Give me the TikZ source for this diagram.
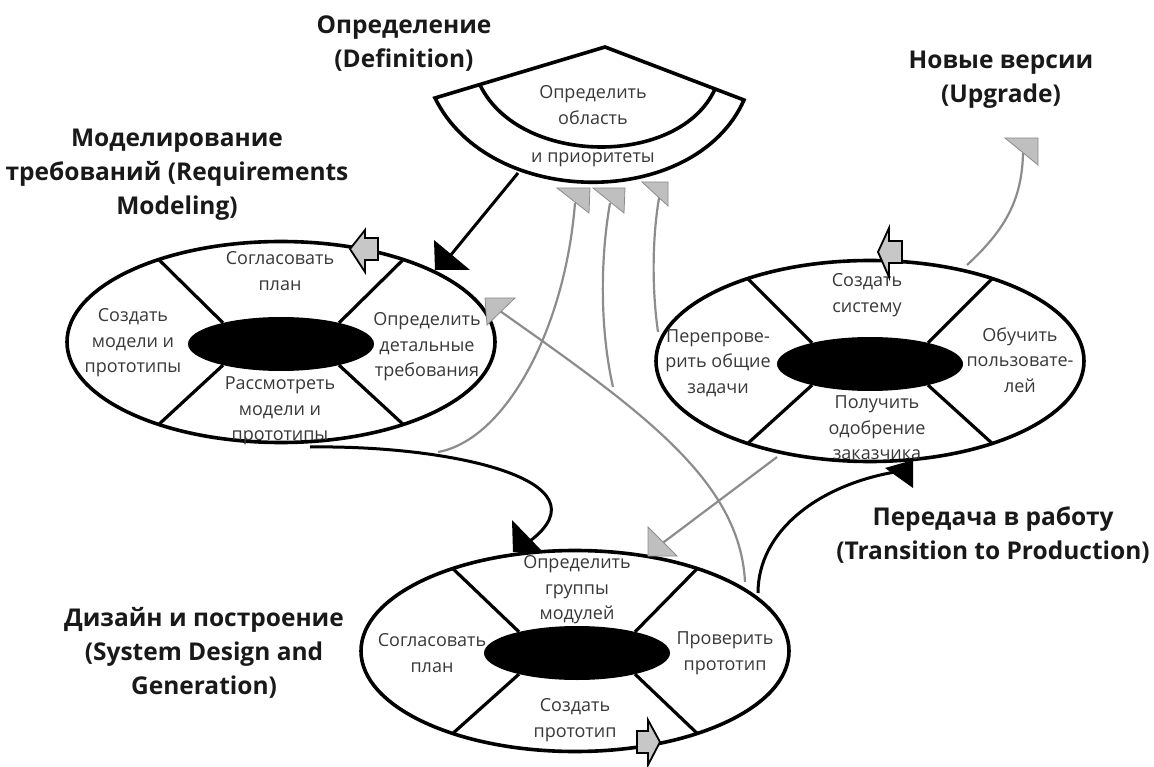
\documentclass[tikz,border=0pt]{standalone}
\usepackage{fontspec}
\setmainfont{Open Sans}
\usetikzlibrary{shapes.geometric}
\begin{document}
\begin{tikzpicture}[x=1pt,y=-1pt,
  outer/.style={ellipse,draw,line width=3.6pt,minimum width=428pt,minimum height=201pt,inner sep=0pt,outer sep=0pt},
  hub/.style={ellipse,fill=black,minimum width=186pt,minimum height=54pt,inner sep=0pt,outer sep=0pt},
  spoke/.style={line width=3.2pt},
  lbl/.style={font=\fontsize{18}{25.5}\selectfont,text=black!78,align=center,inner sep=0pt},
  ttl/.style={font=\fontsize{24.5}{34}\selectfont\bfseries,text=black!90,align=center,inner sep=0pt},
  gline/.style={draw=black!45,line width=2.2pt},
  bline/.style={draw=black,line width=3pt},
  gtip/.style={fill=black!25,draw=black!45,line width=0.8pt},
  btip/.style={fill=black},
  blk/.style={fill=black!22,draw=black,line width=1.8pt,line join=miter}]
\useasboundingbox (0,0) rectangle (1154,767);

% ---------- Definition fan ----------
\coordinate (F1) at (435,98);
\coordinate (Fa) at (605,47);
\coordinate (F2) at (744,100);
\coordinate (Fi1) at (480,85);
\coordinate (Fi2) at (715,89);
\draw[line width=3.6pt,line join=miter] (F1) -- (Fa) -- (F2) .. controls (695,210) and (490,210) .. cycle;
\draw[line width=3.6pt] (Fi1) .. controls (520,167) and (680,167) .. (Fi2);
\node[lbl] (fanA) at (593,105) {Определить\\область};
\node[lbl] (fanB) at (593,160) {и приоритеты};

% ---------- Ellipses ----------
\node[outer] (L) at (281,342) {};
\node[hub] (Lh) at (281,344) {};
\node[outer] (R) at (870,361) {};
\node[hub] (Rh) at (870,364) {};
\node[outer] (B) at (575,651) {};
\node[hub] (Bh) at (577,653) {};
\foreach \e in {L,R,B}{
  \draw[spoke] (\e h.20) -- (\e.34);
  \draw[spoke] (\e h.160) -- (\e.146);
  \draw[spoke] (\e h.200) -- (\e.214);
  \draw[spoke] (\e h.340) -- (\e.326);
}

% ---------- Ellipse texts ----------
\node[lbl] (LA) at (280,271) {Согласовать\\план};
\node[lbl] (LB) at (133,343) {Создать\\модели и\\прототипы};
\node[lbl] (LC) at (427,347) {Определить\\детальные\\требования};
\node[lbl] (LD) at (280,411) {Рассмотреть\\модели и\\прототипы};

\node[lbl] (RA) at (867,295) {Создать\\систему};
\node[lbl] (RB) at (718,363) {Перепрове-\\рить общие\\задачи};
\node[lbl] (RC) at (877,428) {Получить\\одобрение\\заказчика};
\node[lbl] (RD) at (1020,360) {Обучить\\пользовате-\\лей};

\node[lbl] (BA) at (577,590) {Определить\\группы\\модулей};
\node[lbl] (BB) at (432,653) {Согласовать\\план};
\node[lbl] (BC) at (725,653) {Проверить\\прототип};
\node[lbl] (BD) at (575,720) {Создать\\прототип};

% ---------- Titles ----------
\node[ttl] (tDef) at (404,44) {Определение\\(Definition)};
\node[ttl] (tUp) at (1001,80) {Новые версии\\(Upgrade)};
\node[ttl] (tReq) at (177,175) {Моделирование\\требований (Requirements\\Modeling)};
\node[ttl] (tDes) at (204,653) {Дизайн и построение\\(System Design and\\Generation)};
\node[ttl] (tTr) at (993,535) {Передача в работу\\(Transition to Production)};

% ---------- connector end points ----------
\coordinate (fB) at (518,173);
\coordinate (tL) at (450,256);
\coordinate (Lb) at (310,447);
\coordinate (tB) at (530,541);
\coordinate (Bs) at (758,593);
\coordinate (tR) at (895,472);
\coordinate (g1s) at (438,452);
\coordinate (g1e) at (575,203);
\coordinate (Bt) at (745,582);
\coordinate (gLe) at (500,311);
\coordinate (gbr) at (613,387);
\coordinate (g2e) at (610,203);
\coordinate (Rl) at (658,332);
\coordinate (g3e) at (659,198);
\coordinate (Rbl) at (777,457);
\coordinate (g5e) at (660,545);
\coordinate (Rt) at (967,265);
\coordinate (g6e) at (1023,153);

% ---------- gray connectors ----------
\draw[gline] (g1s) .. controls (505,440) and (565,330) .. (g1e);
\draw[gline] (Bt) .. controls (740,480) and (640,410) .. (gLe);
\draw[gline] (gbr) .. controls (600,330) and (600,260) .. (g2e);
\draw[gline] (Rl) .. controls (652,290) and (652,240) .. (g3e);
\draw[gline] (Rbl) -- (g5e);
\draw[gline] (Rt) .. controls (1005,230) and (1022,200) .. (g6e);

% ---------- black connectors ----------
\draw[bline] (fB) -- (tL);
\draw[bline] (Lb) .. controls (450,445) and (610,480) .. (tB);
\draw[bline] (Bs) .. controls (758,530) and (820,485) .. (tR);

% ---------- arrow tips ----------
\filldraw[gtip] (557,188) -- (590,188) -- (589,213) -- cycle;
\filldraw[gtip] (593,188) -- (625,188) -- (624,213) -- cycle;
\filldraw[gtip] (642,182) -- (668,182) -- (668,206) -- cycle;
\filldraw[gtip] (485,298) -- (515,298) -- (487,325) -- cycle;
\filldraw[gtip] (648,527) -- (648,556) -- (677,556) -- cycle;
\filldraw[gtip] (1005,138) -- (1038,138) -- (1038,165) -- cycle;
\fill[btip] (434,240) -- (435,270) -- (470,270) -- cycle;
\fill[btip] (512,520) -- (513,552) -- (543,552) -- cycle;
\fill[btip] (885,468) -- (913,460) -- (913,488) -- cycle;

% ---------- block arrows ----------
\draw[blk] (350,249) -- (365,230) -- (365,238) -- (378,238) -- (378,260) -- (365,260) -- (365,272) -- cycle;
\draw[blk] (878,252) -- (889,228) -- (889,241) -- (902,241) -- (902,263) -- (889,263) -- (889,277) -- cycle;
\draw[blk] (660,742) -- (648,720) -- (648,731) -- (637,731) -- (637,753) -- (648,753) -- (648,765) -- cycle;
\end{tikzpicture}
\end{document}
